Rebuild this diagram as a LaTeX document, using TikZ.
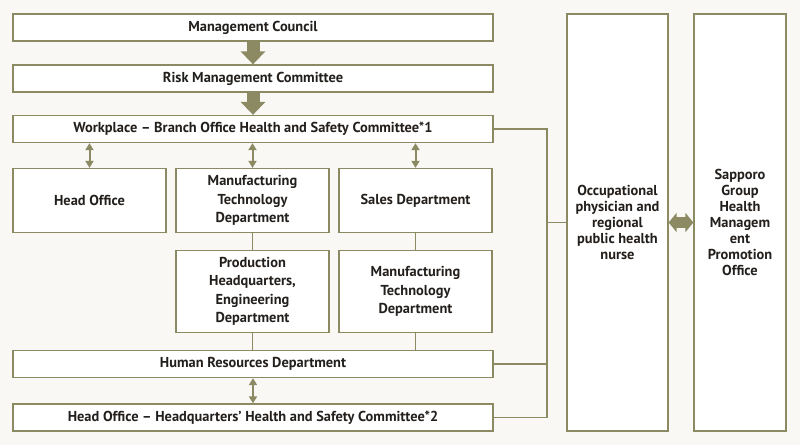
\documentclass[tikz,border=0pt]{standalone}
\usepackage{fontspec}
\setmainfont{PT Sans}
\usetikzlibrary{arrows.meta}
\definecolor{olive}{HTML}{8C8A62}
\definecolor{paper}{HTML}{F9F8F4}
\definecolor{ink}{HTML}{231F1C}
\begin{document}
\begin{tikzpicture}[x=1pt, y=-1pt, line join=miter, font=\bfseries\fontsize{14.4}{18.5}\selectfont, text=ink]
	\tikzset{box/.style={draw=olive, fill=white, line width=1.3pt, align=center, inner sep=2pt},
		wide/.style={box, minimum width=480pt, minimum height=27pt},
		dept/.style={box, minimum width=153pt},
		tall/.style={box, minimum height=417pt, font=\bfseries\fontsize{14.4}{16}\selectfont},
		bigarrow/.style={draw=olive, line width=13pt, -{Triangle[width=24pt, length=13pt]}, olive},
		bothbig/.style={draw=olive, line width=11pt, {Triangle[width=19pt, length=8pt]}-{Triangle[width=19pt, length=8pt]}, olive},
		link/.style={draw=olive, line width=1.3pt},
		twoway/.style={draw=olive, line width=2pt, {Triangle[width=8pt, length=7pt]}-{Triangle[width=8pt, length=7pt]}, olive}}
	\fill[paper] (0,0) rectangle (800,445);
	% committees
	\node[wide] (council) at (253,27.5) {Management Council};
	\node[wide] (risk) at (253,78.5) {Risk Management Committee};
	\node[wide] (workplace) at (253,129) {Workplace – Branch Office Health and Safety Committee*1};
	% departments
	\node[dept, minimum height=64pt] (headoff) at (89.5,200.5) {Head Office};
	\node[dept, minimum height=64pt] (mfgtech) at (252.5,200.5) {Manufacturing\\Technology\\Department};
	\node[dept, minimum height=64pt] (sales) at (415.5,200.5) {Sales Department};
	\node[dept, minimum height=82pt] (prod) at (252.5,291.5) {Production\\Headquarters,\\Engineering\\Department};
	\node[dept, minimum height=82pt] (mfgtech2) at (415.5,291.5) {Manufacturing\\Technology\\Department};
	\node[wide] (hr) at (253,364) {Human Resources Department};
	\node[wide] (hqcomm) at (253,417.5) {Head Office – Headquarters’ Health and Safety Committee*2};
	% right side
	\node[tall, minimum width=101pt] (physician) at (617.5,222.5) {Occupational\\physician and\\regional\\public health\\nurse};
	\node[tall, minimum width=92pt] (sapporo) at (740,222.5) {Sapporo\\Group\\Health\\Managem\\ent\\Promotion\\Office};
	\coordinate (brk) at (547,0);

	\draw[bigarrow] (council) -- (risk);
	\draw[bigarrow] (risk) -- (workplace);
	\draw[twoway] (workplace.south -| headoff) -- (headoff);
	\draw[twoway] (workplace.south -| mfgtech) -- (mfgtech);
	\draw[twoway] (workplace.south -| sales) -- (sales);
	\draw[link] (mfgtech) -- (prod) (prod) -- (prod |- hr.north);
	\draw[link] (sales) -- (mfgtech2) (mfgtech2) -- (mfgtech2 |- hr.north);
	\draw[twoway] (hr) -- (hqcomm);
	\draw[link] (workplace.east) -| (brk |- hqcomm) -- (hqcomm.east);
	\draw[link] (hr.east) -- (hr.east -| brk);
	\draw[link] (physician.west) -- (physician.west -| brk);
	\draw[bothbig] (physician) -- (sapporo);
\end{tikzpicture}
\end{document}
